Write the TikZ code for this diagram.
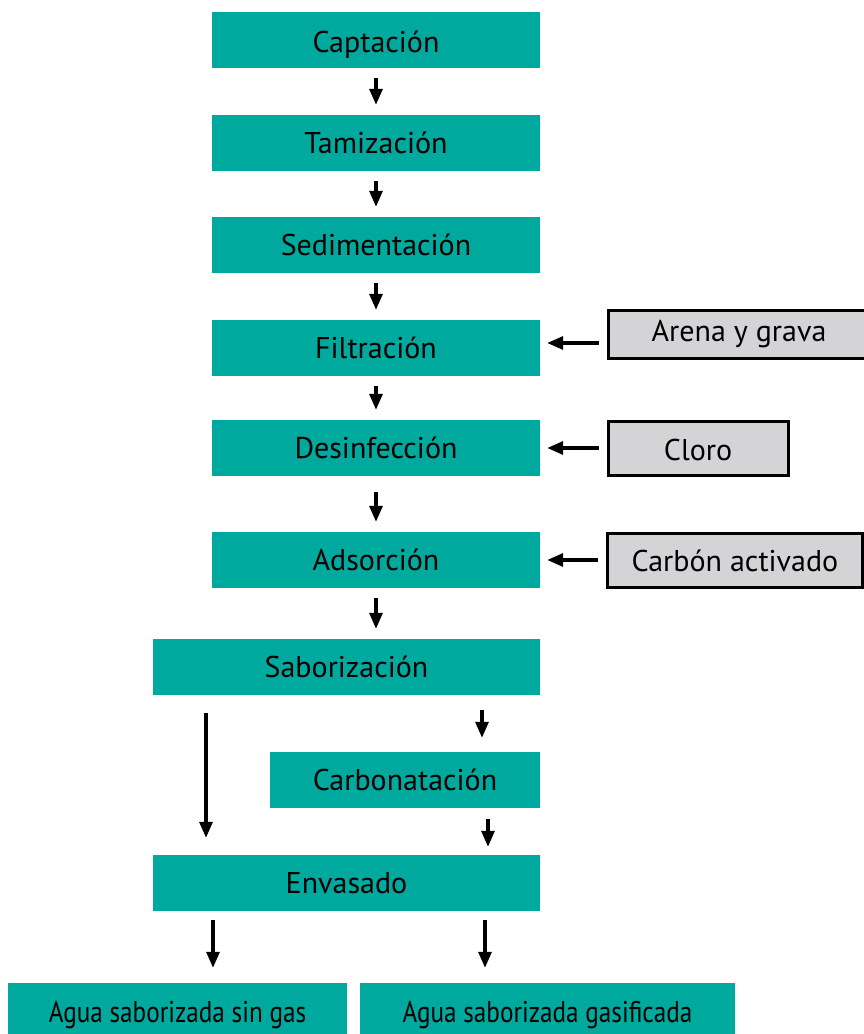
\documentclass[tikz,border=0pt]{standalone}
\usepackage{fontspec}
\setmainfont{PT Sans}
\usetikzlibrary{arrows.meta,calc}
\definecolor{tealbox}{HTML}{00A99D}
\definecolor{graybox}{HTML}{D4D4D6}
\begin{document}
\begin{tikzpicture}[x=1pt,y=-1pt,
  mainbox/.style={fill=tealbox,inner sep=0pt,minimum height=56pt,font=\fontsize{30}{34}\selectfont,text=black},
  addbox/.style={fill=graybox,draw=black,line width=3pt,inner sep=0pt,minimum height=50pt,font=\fontsize{30}{34}\selectfont,text=black},
  arr/.style={line width=3.2pt,-{Triangle[length=16pt,width=13pt]}}
]
\useasboundingbox (0,0) rectangle (864,1034);
\node[mainbox,minimum width=328pt] (cap) at (376,40) {\raisebox{-5pt}[\height][\depth]{Captación}};
\node[mainbox,minimum width=328pt] (tam) at (376,143) {Tamización};
\node[mainbox,minimum width=328pt] (sed) at (376,245) {Sedimentación};
\node[mainbox,minimum width=328pt] (fil) at (376,348) {Filtración};
\node[mainbox,minimum width=328pt] (des) at (376,448) {Desinfección};
\node[mainbox,minimum width=328pt] (ads) at (376,560) {Adsorción};
\node[mainbox,minimum width=387pt] (sab) at (346.5,667) {Saborización};
\node[mainbox,minimum width=270pt] (car) at (405,780) {Carbonatación};
\node[mainbox,minimum width=387pt] (env) at (346.5,883) {Envasado};
\node[mainbox,minimum width=339pt,minimum height=52pt] (sin) at (177.5,1009) {\raisebox{-6pt}[\height][\depth]{\scalebox{0.84}[1]{Agua saborizada sin gas}}};
\node[mainbox,minimum width=375pt,minimum height=52pt] (gas) at (547.5,1009) {\raisebox{-6pt}[\height][\depth]{\scalebox{0.84}[1]{Agua saborizada gasificada}}};

\node[addbox,minimum width=262pt,minimum height=48pt] (are) at (739,334) {Arena y grava};
\node[addbox,minimum width=180pt,minimum height=54pt] (clo) at (698,448) {\raisebox{-2pt}[\height][\depth]{Cloro}};
\node[addbox,minimum width=255pt,minimum height=54pt] (cab) at (735,560) {\raisebox{-1pt}[\height][\depth]{Carbón activado}};

\draw[arr,shorten <=10pt,shorten >=10pt] (cap) -- (tam);
\draw[arr,shorten <=10pt,shorten >=10pt] (tam) -- (sed);
\draw[arr,shorten <=10pt,shorten >=10pt] (sed) -- (fil);
\draw[arr,shorten <=10pt,shorten >=10pt] (fil) -- (des);
\draw[arr,shorten <=16pt,shorten >=10pt] (des) -- (ads);
\draw[arr,shorten <=10pt,shorten >=10pt] (ads.south) -- (ads.south |- sab.north);

\draw[arr,shorten <=8pt,shorten >=7pt] ([yshift=-9pt]are.west) -- ([yshift=5pt]fil.east);
\draw[arr,shorten <=8pt,shorten >=7pt] (clo.west) -- (clo.west -| des.east);
\draw[arr,shorten <=8pt,shorten >=7pt] (cab.west) -- (cab.west -| ads.east);

\coordinate (xl) at (206,0);
\coordinate (xr) at (482,0);
\coordinate (xc) at (488,0);
\coordinate (xa) at (213,0);
\coordinate (xb) at (485,0);
\draw[arr,shorten <=18pt,shorten >=17pt] (sab.south -| xl) -- (env.north -| xl);
\draw[arr,shorten <=15pt,shorten >=14pt] (sab.south -| xr) -- (car.north -| xr);
\draw[arr,shorten <=11pt,shorten >=8pt] (car.south -| xc) -- (env.north -| xc);
\draw[arr,shorten <=9pt,shorten >=15pt] (env.south -| xa) -- (sin.north -| xa);
\draw[arr,shorten <=9pt,shorten >=15pt] (env.south -| xb) -- (gas.north -| xb);
\end{tikzpicture}
\end{document}
